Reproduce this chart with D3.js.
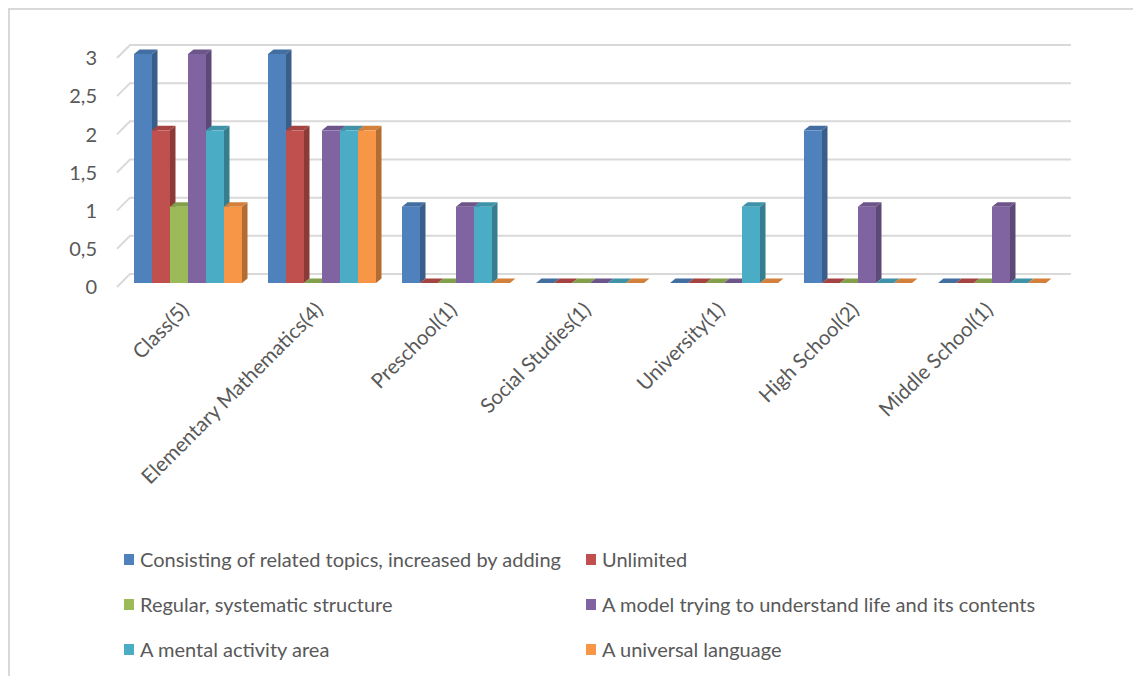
<!DOCTYPE html>
<html>
<head>
<meta charset="utf-8">
<script src="https://cdn.jsdelivr.net/npm/d3@7"></script>
<style>
  html, body { margin: 0; padding: 0; background: #fff; }
  svg { display: block; }
  text { font-family: Lato, "Open Sans", sans-serif; fill: #595959; }
</style>
</head>
<body>
<svg id="chart" width="1133" height="676"></svg>
<script>
// Categories (x axis groups)
const categories = ["Class(5)", "Elementary Mathematics(4)", "Preschool(1)", "Social Studies(1)",
                    "University(1)", "High School(2)", "Middle School(1)"];

// Series names (legend order)
const seriesNames = [
  "Consisting of related topics, increased by adding",
  "Unlimited",
  "Regular, systematic structure",
  "A model trying to understand life and its contents",
  "A mental activity area",
  "A universal language"
];

// Values per series, one entry per category
const consisting = [3, 3, 1, 0, 0, 2, 0];
const unlimited  = [2, 2, 0, 0, 0, 0, 0];
const regular    = [1, 0, 0, 0, 0, 0, 0];
const model      = [3, 2, 1, 0, 0, 1, 1];
const mental     = [2, 2, 1, 0, 1, 0, 0];
const universal  = [1, 2, 0, 0, 0, 0, 0];
const seriesValues = [consisting, unlimited, regular, model, mental, universal];

// Y tick values and their printed labels
const yTicks = [0, 0.5, 1, 1.5, 2, 2.5, 3];
const yTickLabels = ["0", "0,5", "1", "1,5", "2", "2,5", "3"];

const colors = ["#4F81BD", "#C0504D", "#9BBB59", "#8064A2", "#4BACC6", "#F79646"];

const svg = d3.select("#chart");

// frame
svg.append("path")
  .attr("d", "M9,676V9H1133")
  .attr("fill", "none").attr("stroke", "#d9d9d9").attr("stroke-width", 2);

// back wall scale and depth geometry
const yBack = d3.scaleLinear().domain([0, 3]).range([274, 45]);
const wallLeft = 130, wallRight = 1071;
const wallDepth = 13;          // diagonal run of the gridlines toward the viewer
const barShift = 9;            // bar front face sits this far below the back wall
const yFront = v => yBack(v) + barShift;
const ddx = 5.5, ddy = -4.5;   // bar depth offset

// gridlines
const grid = svg.append("g").attr("stroke", "#d9d9d9").attr("stroke-width", 2).attr("fill", "none");
yTicks.forEach(t => {
  const y = yBack(t);
  grid.append("path")
    .attr("d", `M${wallLeft - wallDepth},${y + wallDepth}L${wallLeft},${y}H${wallRight}`);
});

// y labels
svg.append("g").selectAll("text").data(yTicks).join("text")
  .attr("x", 97)
  .attr("y", d => yBack(d) + wallDepth)
  .attr("dy", "0.36em")
  .attr("text-anchor", "end")
  .style("font-size", "20px")
  .text((d, i) => yTickLabels[i]);

// band scales
const x0 = d3.scaleBand().domain(categories).range([121, 1059])
  .paddingInner(26 / 134).paddingOuter(13 / 134);
const x1 = d3.scaleBand().domain(d3.range(seriesNames.length)).range([0, x0.bandwidth()]);

// bars
const bars = svg.append("g");
categories.forEach((cat, ci) => {
  seriesNames.forEach((s, si) => {
    const v = seriesValues[si][ci];
    const x = x0(cat) + x1(si);
    const w = x1.bandwidth();
    const yt = yFront(v), yb = yFront(0);
    const base = d3.color(colors[si]);
    const side = base.darker(0.9);
    const top = base.darker(0.45);
    const g = bars.append("g");
    g.append("path")
      .attr("d", `M${x + w},${yt}L${x + w + ddx},${yt + ddy}L${x + w + ddx},${yb + ddy}L${x + w},${yb}Z`)
      .attr("fill", side);
    g.append("path")
      .attr("d", `M${x},${yt}L${x + ddx},${yt + ddy}L${x + w + ddx},${yt + ddy}L${x + w},${yt}Z`)
      .attr("fill", top);
    if (v > 0) {
      g.append("rect")
        .attr("x", x).attr("y", yt)
        .attr("width", w).attr("height", yb - yt)
        .attr("fill", base);
    }
  });
});

// category labels
svg.append("g").selectAll("text").data(categories).join("text")
  .attr("transform", d => `translate(${x0(d) + x0.bandwidth() / 2 - 8},${301}) rotate(-45)`)
  .attr("text-anchor", "end")
  .attr("dy", "0.7em")
  .style("font-size", "20.5px")
  .text(d => d);

// legend
const legendCols = [124, 586];
const legendRows = [560, 605, 650];
const legend = svg.append("g");
seriesNames.forEach((s, i) => {
  const cx = legendCols[i % 2], cy = legendRows[Math.floor(i / 2)];
  legend.append("rect")
    .attr("x", cx).attr("y", cy - 6).attr("width", 10).attr("height", 11)
    .attr("fill", colors[i]);
  legend.append("text")
    .attr("x", cx + 16).attr("y", cy)
    .attr("dy", "0.36em")
    .style("font-size", "20px")
    .text(s);
});
</script>
</body>
</html>
